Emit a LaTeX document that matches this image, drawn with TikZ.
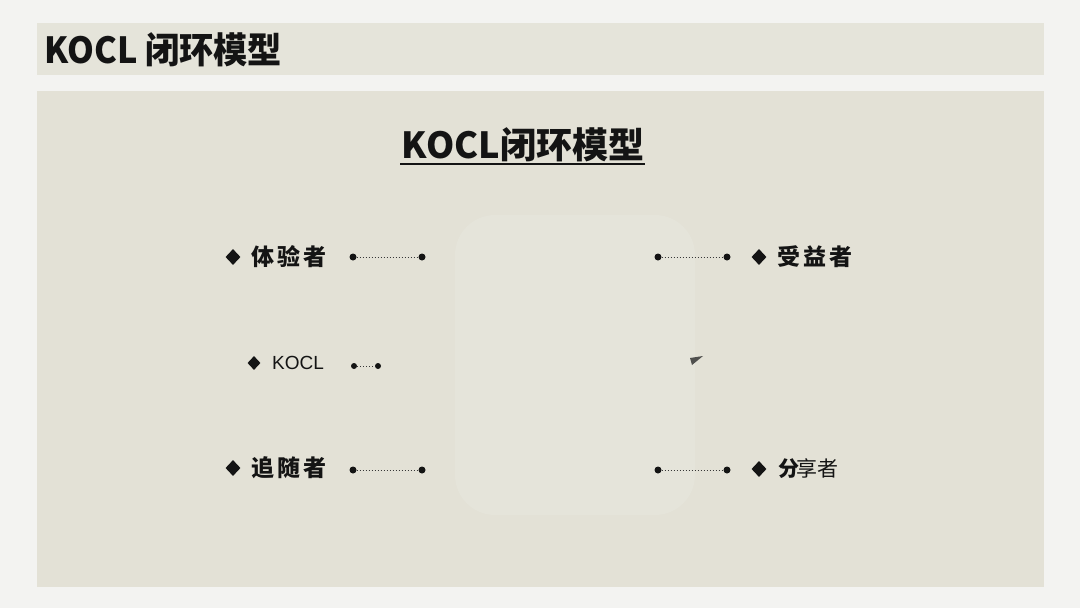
\documentclass[tikz,border=0pt]{standalone}
\usepackage{fontspec}
\setmainfont{Noto Sans CJK SC}
\newfontfamily\cjk{Noto Sans CJK SC}
\newfontfamily\lat{Liberation Sans}
\usetikzlibrary{shapes.geometric}
\definecolor{pagebg}{RGB}{243,243,241}
\definecolor{band}{RGB}{229,228,218}
\definecolor{panel}{RGB}{227,225,214}
\definecolor{blob}{RGB}{229,228,218}
\definecolor{ink}{RGB}{20,20,20}
\definecolor{tri}{RGB}{80,80,78}
\newcommand{\spc}{\hspace{3pt}}
\tikzset{
  bullet/.style={diamond, fill=ink, inner sep=0pt, minimum width=15pt, minimum height=16pt},
  label/.style={anchor=west, inner sep=0pt, text=ink, font=\cjk\fontsize{23}{23}\selectfont\bfseries},
  small/.style={anchor=west, inner sep=0pt, text=ink, font=\lat\fontsize{19}{19}\selectfont},
  endpt/.style={circle, fill=ink, inner sep=0pt, minimum size=7pt},
  link/.style={draw=ink!85, line width=1pt, dotted},
}
\begin{document}
\begin{tikzpicture}[x=1pt,y=-1pt]
\useasboundingbox (0,0) rectangle (1080,608);
\fill[pagebg] (0,0) rectangle (1080,608);
\fill[band] (37,23) rectangle (1044,75);
\fill[panel] (37,91) rectangle (1044,587);
\fill[blob, rounded corners=40pt] (455,215) rectangle (695,515);
% header title
\node[anchor=west, inner sep=0pt, text=ink, font=\cjk\fontsize{36}{36}\selectfont\bfseries] (hdr) at (44,50) {\scalebox{0.95}[1]{KOCL 闭环模型}};
% center title
\node[inner sep=0pt, text=ink, font=\cjk\fontsize{36}{36}\selectfont\bfseries] (ttl) at (523,145) {KOCL闭环模型};
\draw[ink, line width=1.5pt] (400,164) -- (645,164);
% row 1 left
\node[bullet] (b1) at (233,257) {};
\node[label] (t1) at (251,257) {体\spc 验\spc 者};
\node[endpt] (l1a) at (353,257) {};
\node[endpt] (l1b) at (422,257) {};
\draw[link] (l1a) -- (l1b);
% row 1 right
\node[endpt] (r1a) at (658,257) {};
\node[endpt] (r1b) at (727,257) {};
\draw[link] (r1a) -- (r1b);
\node[bullet] (b2) at (759,257) {};
\node[label] (t2) at (777,257) {受\spc 益\spc 者};
% row 2
\node[bullet, minimum width=13pt, minimum height=14pt] (b3) at (254,363) {};
\node[small] (t3) at (272,363) {KOCL};
\node[endpt, minimum size=6pt] (l2a) at (354,366) {};
\node[endpt, minimum size=6pt] (l2b) at (378,366) {};
\draw[link] (l2a) -- (l2b);
\fill[tri] (690,358) -- (703,356) -- (692,365) -- cycle;
% row 3 left
\node[bullet] (b4) at (233,468) {};
\node[label] (t4) at (251,468) {追\spc 随\spc 者};
\node[endpt] (l3a) at (353,470) {};
\node[endpt] (l3b) at (422,470) {};
\draw[link] (l3a) -- (l3b);
% row 3 right
\node[endpt] (r3a) at (658,470) {};
\node[endpt] (r3b) at (727,470) {};
\draw[link] (r3a) -- (r3b);
\node[bullet] (b5) at (759,469) {};
\node[anchor=west, inner sep=0pt, text=ink, font=\cjk\fontsize{21}{21}\selectfont] (t5) at (778,469) {{\bfseries 分}\kern-3pt 享者};
\end{tikzpicture}
\end{document}
